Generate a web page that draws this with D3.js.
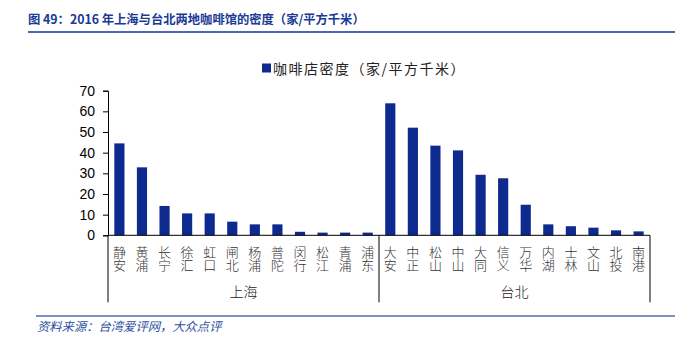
<!DOCTYPE html>
<html>
<head>
<meta charset="utf-8">
<script src="https://cdn.jsdelivr.net/npm/d3@7"></script>
<style>
  body { margin: 0; background: #fff; }
  svg { display: block; }
</style>
</head>
<body>
<svg></svg>
<script>
const width = 689, height = 353;

// data
const shanghaiDistricts = ["静安", "黄浦", "长宁", "徐汇", "虹口", "闸北", "杨浦", "普陀", "闵行", "松江", "青浦", "浦东"];
const shanghaiDensity = [44.5, 32.9, 14.2, 10.6, 10.6, 6.6, 5.3, 5.3, 1.7, 1.3, 1.3, 1.3];
const taipeiDistricts = ["大安", "中正", "松山", "中山", "大同", "信义", "万华", "内湖", "士林", "文山", "北投", "南港"];
const taipeiDensity = [63.9, 52.1, 43.4, 41.1, 29.3, 27.6, 14.8, 5.3, 4.4, 3.7, 2.4, 1.9];
const groups = ["上海", "台北"];
const yTicks = [0, 10, 20, 30, 40, 50, 60, 70];

const rows = shanghaiDistricts.map((d, i) => ({ group: "上海", name: d, value: shanghaiDensity[i] }))
    .concat(taipeiDistricts.map((d, i) => ({ group: "台北", name: d, value: taipeiDensity[i] })));

const margin = { left: 108, right: 39, top: 90.7, bottom: 117.7 };
const plotW = width - margin.left - margin.right;
const plotH = height - margin.top - margin.bottom;
const barColor = "#0e2a8e";
const blue = "#1a3a94";
const cjk = "'Noto Sans CJK SC', 'Noto Sans', sans-serif";

const svg = d3.select("svg")
    .attr("width", width)
    .attr("height", height);

// title + rule
svg.append("text")
    .attr("x", 28)
    .attr("y", 24)
    .style("font-family", cjk)
    .style("font-weight", "bold")
    .style("font-size", "12.3px")
    .style("fill", blue)
    .text("图 49：2016 年上海与台北两地咖啡馆的密度（家/平方千米）");

svg.append("line")
    .attr("x1", 28).attr("x2", 675)
    .attr("y1", 32).attr("y2", 32)
    .attr("stroke", "#12349a")
    .attr("stroke-width", 1.6);

// legend
svg.append("rect")
    .attr("x", 262).attr("y", 63.5)
    .attr("width", 9).attr("height", 9)
    .attr("fill", barColor);
svg.append("text")
    .attr("x", 273)
    .attr("y", 68)
    .attr("dominant-baseline", "central")
    .style("font-family", cjk)
    .style("font-size", "14px")
    .style("letter-spacing", "1.5px")
    .style("fill", "#222")
    .text("咖啡店密度（家/平方千米）");

const g = svg.append("g")
    .attr("transform", `translate(${margin.left}, ${margin.top})`);

const x = d3.scaleBand()
    .domain(rows.map(d => d.name + d.group))
    .range([0, plotW])
    .paddingInner(0.55)
    .paddingOuter(0.28);

const y = d3.scaleLinear()
    .domain([0, 70])
    .range([plotH, 0]);

// y axis
const yAxis = g.append("g")
    .call(d3.axisLeft(y).tickValues(yTicks).tickSize(5).tickPadding(8));
yAxis.select(".domain").attr("stroke", "#000");
yAxis.selectAll(".tick line").attr("stroke", "#000");
yAxis.selectAll("text")
    .style("font-family", "'Liberation Sans', Arial, sans-serif")
    .style("font-size", "14px")
    .style("fill", "#000");

// bars
g.selectAll(".bar")
    .data(rows)
    .enter().append("rect")
    .attr("class", "bar")
    .attr("x", d => x(d.name + d.group))
    .attr("y", d => y(d.value))
    .attr("width", x.bandwidth())
    .attr("height", d => plotH - y(d.value))
    .attr("fill", barColor);

// x baseline
g.append("line")
    .attr("x1", 0).attr("x2", plotW)
    .attr("y1", plotH).attr("y2", plotH)
    .attr("stroke", "#000");

// category labels, written top to bottom
g.selectAll(".cat")
    .data(rows)
    .enter().append("text")
    .attr("class", "cat")
    .attr("x", d => x(d.name + d.group) + x.bandwidth() / 2)
    .attr("y", plotH + 10)
    .attr("writing-mode", "vertical-rl")
    .style("text-orientation", "upright")
    .style("font-family", cjk)
    .style("font-weight", "300")
    .style("font-size", "13px")
    .style("fill", "#333")
    .text(d => d.name);

// group dividers and names
const groupEdges = [0, plotW / 2, plotW];
g.selectAll(".divider")
    .data(groupEdges)
    .enter().append("line")
    .attr("x1", d => d).attr("x2", d => d)
    .attr("y1", plotH).attr("y2", plotH + 67)
    .attr("stroke", "#000");

g.selectAll(".group")
    .data(groups)
    .enter().append("text")
    .attr("x", (d, i) => (groupEdges[i] + groupEdges[i + 1]) / 2)
    .attr("y", plotH + 62)
    .attr("text-anchor", "middle")
    .style("font-family", cjk)
    .style("font-weight", "300")
    .style("font-size", "14px")
    .style("fill", "#222")
    .text(d => d);

// footer
svg.append("line")
    .attr("x1", 36).attr("x2", 675)
    .attr("y1", 316).attr("y2", 316)
    .attr("stroke", "#4b6cb3")
    .attr("stroke-width", 1.6);
svg.append("text")
    .attr("x", 37)
    .attr("y", 331)
    .style("font-family", cjk)
    .style("font-style", "italic")
    .style("font-size", "12.3px")
    .style("fill", "#2d4f9e")
    .text("资料来源：台湾爱评网，大众点评");
</script>
</body>
</html>
